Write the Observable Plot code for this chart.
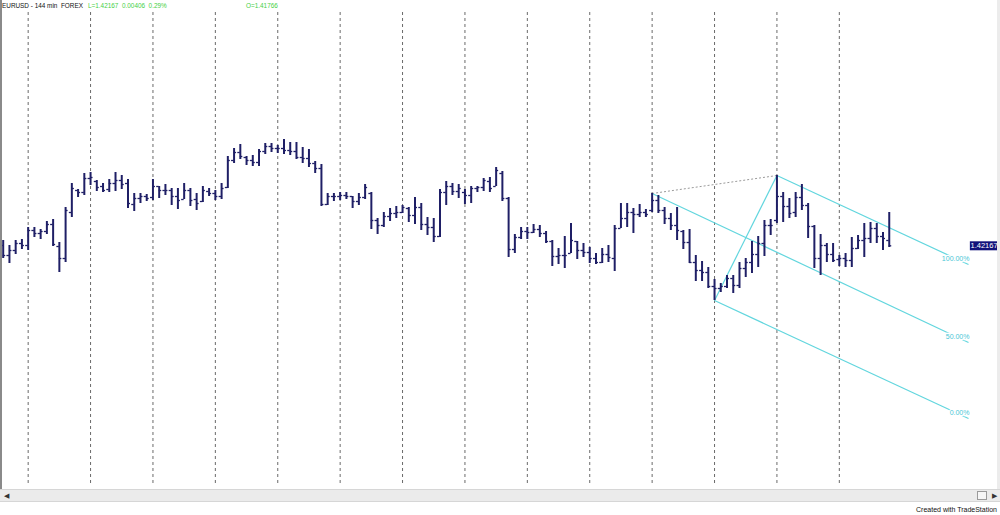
<!DOCTYPE html>
<html>
<head>
<meta charset="utf-8">
<script src="https://cdn.jsdelivr.net/npm/d3@7"></script>
<script src="https://cdn.jsdelivr.net/npm/@observablehq/plot@0.6"></script>
<style>
  body { margin: 0; background: #fff; font-family: "Liberation Sans", Arial, sans-serif; }
  #wrap { position: relative; width: 1000px; height: 515px; overflow: hidden; background: #fff; }
  #status { position: absolute; left: 0; top: 0; width: 1000px; height: 12px; font-size: 6.4px; line-height: 12px; white-space: pre; }
  #status span { position: absolute; top: 0; }
  #chart { position: absolute; left: 0; top: 12px; }
  #edgeL { position: absolute; left: 0; top: 0; width: 2px; height: 489px; background: #8a8a8a; }
  #edgeR { position: absolute; right: 0; top: 0; width: 3px; height: 489px; background: #ececec; }
  #scroll { position: absolute; left: 0; top: 489px; width: 1000px; height: 13px; background: #ebebeb; border-top: 1px solid #d6d6d6; border-bottom: 1px solid #d6d6d6; box-sizing: border-box; }
  #scroll .arr { position: absolute; top: 0; font-size: 7px; line-height: 11px; color: #333; }
  #scroll .thumb { position: absolute; left: 977px; top: 1px; width: 10px; height: 9px; background: #f6f6f6; border: 1px solid #9a9a9a; box-sizing: border-box; }
  #credit { position: absolute; right: 3px; top: 504px; font-size: 7px; line-height: 11px; color: #111; }
</style>
</head>
<body>
<div id="wrap">
  <div id="status">
    <span style="left:2px;color:#111">EURUSD - 144 min  FOREX</span>
    <span style="left:88px;color:#45d045">L=1.42167  0.00406  0.29%</span>
    <span style="left:246px;color:#45d045">O=1.41766</span>
  </div>
  <div id="chart"></div>
  <div id="edgeL"></div>
  <div id="edgeR"></div>
  <div id="scroll">
    <span class="arr" style="left:4px">&#9664;</span>
    <div class="thumb"></div>
    <span class="arr" style="left:992px">&#9654;</span>
  </div>
  <div id="credit">Created with TradeStation</div>
</div>
<script>
// EURUSD 144-minute OHLC bars, oldest first (bar index = position in the arrays)
const high = [
  1.4222,1.4217,1.4222,1.4223,1.4235,1.4235,1.4233,1.4241,1.4243,1.4220,
  1.4255,1.4279,1.4273,1.4289,1.4290,1.4282,1.4279,1.4283,1.4290,1.4287,
  1.4283,1.4269,1.4269,1.4268,1.4283,1.4276,1.4278,1.4274,1.4274,1.4279,
  1.4274,1.4269,1.4276,1.4274,1.4272,1.4279,1.4306,1.4314,1.4318,1.4306,
  1.4307,1.4313,1.4319,1.4319,1.4317,1.4323,1.4320,1.4320,1.4315,1.4313,
  1.4301,1.4298,1.4269,1.4269,1.4270,1.4270,1.4266,1.4269,1.4278,1.4270,
  1.4244,1.4250,1.4254,1.4256,1.4257,1.4255,1.4265,1.4259,1.4245,1.4244,
  1.4273,1.4281,1.4279,1.4278,1.4273,1.4276,1.4276,1.4284,1.4285,1.4295,
  1.4291,1.4265,1.4228,1.4235,1.4235,1.4238,1.4237,1.4231,1.4222,1.4214,
  1.4226,1.4239,1.4221,1.4219,1.4215,1.4209,1.4214,1.4217,1.4237,1.4259,
  1.4259,1.4254,1.4258,1.4253,1.4269,1.4267,1.4255,1.4249,1.4255,1.4232,
  1.4233,1.4207,1.4201,1.4195,1.4183,1.4179,1.4187,1.4187,1.4200,1.4204,
  1.4221,1.4226,1.4242,1.4243,1.4287,1.4270,1.4264,1.4270,1.4278,1.4259,
  1.4237,1.4228,1.4219,1.4219,1.4207,1.4209,1.4225,1.4227,1.4239,1.4240,
  1.4239,1.4230,1.4250
];
const low = [
  1.4204,1.4199,1.4208,1.4213,1.4212,1.4225,1.4223,1.4228,1.4216,1.4190,
  1.4200,1.4245,1.4265,1.4267,1.4277,1.4271,1.4270,1.4270,1.4271,1.4273,
  1.4254,1.4251,1.4259,1.4261,1.4262,1.4264,1.4267,1.4257,1.4253,1.4263,
  1.4256,1.4252,1.4260,1.4266,1.4262,1.4263,1.4274,1.4299,1.4303,1.4297,
  1.4296,1.4296,1.4308,1.4310,1.4309,1.4308,1.4307,1.4303,1.4299,1.4295,
  1.4289,1.4256,1.4257,1.4261,1.4262,1.4263,1.4254,1.4257,1.4263,1.4233,
  1.4228,1.4235,1.4241,1.4244,1.4249,1.4240,1.4238,1.4232,1.4227,1.4220,
  1.4225,1.4257,1.4267,1.4264,1.4258,1.4259,1.4270,1.4271,1.4270,1.4276,
  1.4261,1.4205,1.4209,1.4223,1.4223,1.4229,1.4225,1.4219,1.4196,1.4198,
  1.4194,1.4209,1.4203,1.4205,1.4199,1.4198,1.4199,1.4200,1.4191,1.4234,
  1.4235,1.4229,1.4245,1.4245,1.4250,1.4249,1.4238,1.4232,1.4222,1.4213,
  1.4199,1.4181,1.4181,1.4174,1.4162,1.4170,1.4174,1.4169,1.4174,1.4185,
  1.4189,1.4195,1.4206,1.4227,1.4239,1.4240,1.4244,1.4245,1.4252,1.4224,
  1.4194,1.4187,1.4200,1.4200,1.4196,1.4195,1.4195,1.4213,1.4205,1.4219,
  1.4219,1.4212,1.4215
];
const open = [
  1.4217,1.4207,1.4212,1.4219,1.4217,1.4232,1.4229,1.4231,1.4238,1.4216,
  1.4204,1.4250,1.4272,1.4270,1.4284,1.4281,1.4276,1.4273,1.4279,1.4282,
  1.4279,1.4258,1.4264,1.4266,1.4265,1.4276,1.4272,1.4272,1.4266,1.4263,
  1.4272,1.4263,1.4261,1.4271,1.4269,1.4266,1.4275,1.4302,1.4310,1.4305,
  1.4302,1.4300,1.4311,1.4316,1.4314,1.4314,1.4312,1.4311,1.4305,1.4304,
  1.4299,1.4294,1.4258,1.4266,1.4266,1.4267,1.4266,1.4261,1.4265,1.4269,
  1.4242,1.4237,1.4246,1.4249,1.4250,1.4254,1.4247,1.4255,1.4238,1.4235,
  1.4226,1.4270,1.4276,1.4271,1.4270,1.4267,1.4274,1.4275,1.4281,1.4276,
  1.4289,1.4264,1.4213,1.4225,1.4231,1.4230,1.4233,1.4229,1.4221,1.4206,
  1.4207,1.4209,1.4221,1.4212,1.4210,1.4204,1.4200,1.4208,1.4204,1.4234,
  1.4244,1.4250,1.4248,1.4250,1.4252,1.4262,1.4252,1.4244,1.4237,1.4231,
  1.4220,1.4200,1.4192,1.4190,1.4176,1.4174,1.4176,1.4184,1.4177,1.4194,
  1.4200,1.4208,1.4219,1.4237,1.4242,1.4266,1.4256,1.4250,1.4265,1.4257,
  1.4236,1.4204,1.4217,1.4208,1.4203,1.4204,1.4202,1.4214,1.4222,1.4224,
  1.4234,1.4226,1.4222
];
const close = [
  1.4207,1.4212,1.4219,1.4217,1.4232,1.4229,1.4231,1.4238,1.4218,1.4204,
  1.4252,1.4274,1.4270,1.4284,1.4285,1.4275,1.4272,1.4279,1.4282,1.4278,
  1.4259,1.4264,1.4266,1.4264,1.4276,1.4272,1.4272,1.4266,1.4262,1.4272,
  1.4262,1.4259,1.4272,1.4269,1.4266,1.4274,1.4302,1.4310,1.4306,1.4302,
  1.4300,1.4311,1.4316,1.4314,1.4314,1.4312,1.4311,1.4305,1.4304,1.4299,
  1.4294,1.4258,1.4266,1.4266,1.4267,1.4266,1.4261,1.4265,1.4275,1.4242,
  1.4237,1.4246,1.4249,1.4250,1.4255,1.4247,1.4255,1.4238,1.4235,1.4226,
  1.4270,1.4276,1.4271,1.4274,1.4267,1.4274,1.4275,1.4282,1.4274,1.4292,
  1.4264,1.4213,1.4225,1.4231,1.4230,1.4233,1.4229,1.4221,1.4206,1.4207,
  1.4207,1.4222,1.4212,1.4210,1.4204,1.4200,1.4208,1.4205,1.4234,1.4244,
  1.4250,1.4248,1.4250,1.4248,1.4262,1.4252,1.4244,1.4237,1.4232,1.4220,
  1.4200,1.4192,1.4190,1.4176,1.4174,1.4176,1.4184,1.4177,1.4194,1.4200,
  1.4208,1.4219,1.4237,1.4237,1.4266,1.4256,1.4249,1.4265,1.4257,1.4236,
  1.4204,1.4217,1.4208,1.4202,1.4204,1.4202,1.4214,1.4222,1.4224,1.4234,
  1.4226,1.4224,1.42167
];

// Bars that open a new trading session (dashed separators)
const sessionStarts = [4, 14, 24, 34, 44, 54, 64, 74, 84, 94, 104, 114, 124, 134];

// Fibonacci channel: pivots (bar indices) and the three parallel levels
const pivotHigh1 = 104, pivotLow = 114, pivotHigh2 = 124;
const fibLabels = ["100.00%", "50.00%", "0.00%"];
const fibStartBar = [124, 104, 114];
const fibEndBar = 154.7;
const fibEndPrice = [1.4198, 1.4120, 1.4044];

const bars = high.map((h, i) => ({i, high: h, low: low[i], open: open[i], close: close[i]}));
const last = bars[bars.length - 1];
const fibStartPrice = [high[pivotHigh2], high[pivotHigh1], low[pivotLow]];
const fib = fibLabels.map((label, k) => ({
  label, x1: fibStartBar[k], y1: fibStartPrice[k], x2: fibEndBar, y2: fibEndPrice[k]
}));

const navy = "#1f1f66";
const cyan = "#62d6de";

const chart = Plot.plot({
  width: 1000,
  height: 477,
  marginTop: 0,
  marginBottom: 4,
  marginLeft: 0,
  marginRight: 0,
  x: {type: "linear", domain: [-0.433, 159.83], axis: null},
  y: {type: "linear", domain: [1.3977, 1.4450], axis: null},
  style: {background: "transparent", fontFamily: "Liberation Sans, Arial, sans-serif"},
  marks: [
    // session separators
    Plot.ruleX(sessionStarts, {stroke: "#6a6a6a", strokeWidth: 1, strokeDasharray: "3,3"}),
    // dotted link between the two swing highs
    Plot.link([{x1: pivotHigh1, y1: high[pivotHigh1], x2: pivotHigh2, y2: high[pivotHigh2]}], {
      x1: "x1", y1: "y1", x2: "x2", y2: "y2", stroke: "#9a9a9a", strokeWidth: 1, strokeDasharray: "2,2"
    }),
    // swing low to swing high
    Plot.link([{x1: pivotLow, y1: low[pivotLow], x2: pivotHigh2, y2: high[pivotHigh2]}], {
      x1: "x1", y1: "y1", x2: "x2", y2: "y2", stroke: cyan, strokeWidth: 1.2
    }),
    // channel levels
    Plot.link(fib, {x1: "x1", y1: "y1", x2: "x2", y2: "y2", stroke: cyan, strokeWidth: 1.2}),
    // OHLC bars
    Plot.ruleX(bars, {x: "i", y1: "low", y2: "high", stroke: navy, strokeWidth: 2}),
    Plot.ruleY(bars, {y: "open", x1: d => d.i - 0.4, x2: "i", stroke: navy, strokeWidth: 1.3}),
    Plot.ruleY(bars, {y: "close", x1: "i", x2: d => d.i + 0.4, stroke: navy, strokeWidth: 1.3}),
    // level labels
    Plot.text(fib, {
      x: "x2", y: "y2", text: "label", textAnchor: "end", dy: -6, dx: 1,
      fill: "#48c6d6", fontSize: 7, stroke: "white", strokeWidth: 2.5, paintOrder: "stroke"
    }),
    // last price marker
    Plot.ruleY([last], {y: "close", x1: 155.0, x2: 159.35, stroke: "#12127a", strokeWidth: 9}),
    Plot.text([last], {
      x: 157.2, y: "close", text: d => d.close.toFixed(5), fill: "white", fontSize: 7.5
    })
  ]
});
document.getElementById("chart").append(chart);
</script>
</body>
</html>
